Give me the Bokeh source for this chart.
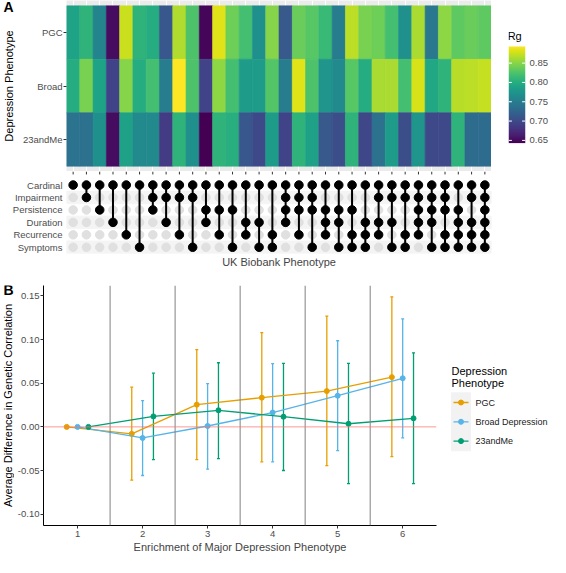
import numpy as np
from bokeh.plotting import figure
from bokeh.models import (ColumnDataSource, LinearColorMapper, FixedTicker, Range1d,
                          Whisker, Span, TeeHead, NumeralTickFormatter)
from bokeh.layouts import column, row
from bokeh.palettes import Viridis256
from bokeh.transform import transform
from bokeh.embed import file_html
from bokeh.resources import INLINE
from bokeh.core.properties import value

FONT = "Liberation Sans"
TICK_GRAY = "#4D4D4D"

# ---------------- data ----------------
depression_rows = ["PGC", "Broad", "23andMe"]
ukb_phenotypes = ["Cardinal", "Impairment", "Persistence", "Duration", "Recurrence", "Symptoms"]
ukb_codes = ["C", "I", "P", "D", "R", "S"]
ukb_combinations = [
    "C", "CI", "CP", "CD", "CR", "CS",
    "CIP", "CID", "CIR", "CIS", "CPD", "CPR", "CPS", "CDR", "CDS", "CRS",
    "CIPD", "CIPR", "CIPS", "CPDR", "CPDS", "CPRS", "CDRS", "CIDR", "CIDS", "CIRS",
    "CIPDR", "CIPDS", "CIPRS", "CPDRS", "CIDRS", "CIPDRS"]

rg_pgc = [0.788, 0.806, 0.756, 0.651, 0.873, 0.806, 0.798, 0.711, 0.863, 0.823,
          0.646, 0.881, 0.838, 0.818, 0.768, 0.848, 0.713, 0.836, 0.828, 0.811,
          0.748, 0.868, 0.843, 0.838, 0.818, 0.768, 0.861, 0.743, 0.851, 0.831,
          0.836, 0.831]
rg_broad = [0.798, 0.843, 0.788, 0.693, 0.848, 0.798, 0.818, 0.748, 0.893, 0.823,
            0.693, 0.851, 0.818, 0.781, 0.781, 0.826, 0.748, 0.881, 0.823, 0.773,
            0.763, 0.828, 0.798, 0.861, 0.861, 0.818, 0.878, 0.793, 0.806, 0.866,
            0.868, 0.871]
rg_23andme = [0.738, 0.736, 0.768, 0.651, 0.786, 0.763, 0.763, 0.686, 0.806, 0.768,
              0.643, 0.806, 0.801, 0.711, 0.698, 0.781, 0.693, 0.806, 0.786, 0.713,
              0.703, 0.806, 0.696, 0.736, 0.781, 0.703, 0.773, 0.698, 0.698, 0.806,
              0.731, 0.731]
rg_ticks = [0.65, 0.70, 0.75, 0.80, 0.85]

enrichment = [1, 2, 3, 4, 5, 6]
series_names = ["PGC", "Broad Depression", "23andMe"]
series_colors = ["#E69F00", "#56B4E9", "#009E73"]
pgc_mean = [0.0, -0.008, 0.0255, 0.0335, 0.041, 0.057]
pgc_lo = [0.0, -0.061, -0.0375, -0.040, -0.0445, -0.034]
pgc_hi = [0.0, 0.0455, 0.0885, 0.108, 0.127, 0.149]
broad_mean = [0.0, -0.0127, 0.001, 0.0164, 0.0357, 0.0557]
broad_lo = [0.0, -0.0557, -0.0485, -0.040, -0.0273, -0.0127]
broad_hi = [0.0, 0.030, 0.0495, 0.0725, 0.0987, 0.1238]
me_mean = [0.0, 0.012, 0.019, 0.0117, 0.0036, 0.0098]
me_lo = [0.0, -0.0375, -0.0364, -0.050, -0.065, -0.065]
me_hi = [0.0, 0.0615, 0.0735, 0.0728, 0.0728, 0.0849]
y_ticks_b = [-0.10, -0.05, 0.0, 0.05, 0.10, 0.15]


def clean(p):
    p.outline_line_color = None
    p.border_fill_color = "white"
    p.xaxis.minor_tick_line_color = None
    p.yaxis.minor_tick_line_color = None
    p.toolbar.logo = None


def strip_fig(w, h, top, bottom):
    """Narrow figure used for the panel tag and the rotated axis title."""
    p = figure(width=w, height=h, x_range=Range1d(0, w), y_range=Range1d(h - bottom, top),
               output_backend="svg", toolbar_location=None,
               min_border_left=0, min_border_right=0, min_border_top=top, min_border_bottom=bottom)
    clean(p)
    p.axis.visible = False
    p.grid.grid_line_color = None
    return p


# ---------------- panel A: heatmap ----------------
all_rg = rg_pgc + rg_broad + rg_23andme
mapper = LinearColorMapper(palette=Viridis256, low=min(all_rg), high=max(all_rg))
ncol = len(ukb_combinations)

hx, hy, hv = [], [], []
for r, vals in zip([3, 2, 1], [rg_pgc, rg_broad, rg_23andme]):
    for j, v in enumerate(vals):
        hx.append(j + 1)
        hy.append(r)
        hv.append(v)
hsrc = ColumnDataSource(dict(x=hx, y=hy, rg=hv))

LB = 66          # left edge of the heatmap / upset frames
TAG_A = 16       # width of the tag strip left of panel A
HA = 171
xr = Range1d(0.5, ncol + 0.5)
yA = Range1d(0.4, 3.6)

pTA = strip_fig(TAG_A, HA, 0, 0)
pTA.text(x=[3], y=[6.7], text=["A"], text_font=value(FONT), text_font_size="14px",
         text_font_style="bold", text_baseline="middle", text_color="black")
pTA.text(x=[8], y=[HA / 2], text=["Depression Phenotype"], angle=np.pi / 2,
         text_font=value(FONT), text_font_size="11px", text_align="center",
         text_baseline="middle", text_color="black")

pA = figure(width=491 - TAG_A, height=HA, x_range=xr, y_range=yA,
            output_backend="svg", toolbar_location=None,
            min_border_left=LB - TAG_A, min_border_right=0, min_border_top=0, min_border_bottom=0)
clean(pA)
pA.background_fill_color = "#EBEBEB"
pA.rect(x="x", y="y", width=1, height=1, source=hsrc,
        fill_color=transform("rg", mapper), line_color=transform("rg", mapper), line_width=0.6)
pA.xgrid.ticker = FixedTicker(ticks=list(range(1, ncol + 1)))
pA.xgrid.grid_line_color = "white"
pA.xgrid.grid_line_width = 1
pA.ygrid.grid_line_color = None
pA.xaxis.visible = False
pA.yaxis.ticker = FixedTicker(ticks=[1, 2, 3])
pA.yaxis.major_label_overrides = {1: depression_rows[2], 2: depression_rows[1], 3: depression_rows[0]}
pA.yaxis.axis_line_color = None
pA.yaxis.major_tick_out = 3
pA.yaxis.major_tick_in = 0
pA.yaxis.major_tick_line_color = "#333333"
pA.yaxis.major_label_text_font = FONT
pA.yaxis.major_label_text_font_size = "9.5px"
pA.yaxis.major_label_text_color = TICK_GRAY
pA.yaxis.major_label_standoff = 1

# colour bar as its own small figure (frame = full height, bar placed by range)
lo, hi = mapper.low, mapper.high
bar_top, bar_bot = 46.0, 142.6
u = (hi - lo) / (bar_bot - bar_top)
pCB = figure(width=59, height=HA, x_range=Range1d(0, 1),
             y_range=Range1d(lo - (HA - bar_bot) * u, hi + bar_top * u),
             y_axis_location="right", output_backend="svg", toolbar_location=None,
             min_border_left=17, min_border_right=25, min_border_top=0, min_border_bottom=0)
clean(pCB)
grad = np.linspace(lo, hi, 256).reshape(256, 1)
pCB.image(image=[grad], x=0, y=lo, dw=1, dh=hi - lo, color_mapper=mapper)
pCB.segment(x0=0, x1=0.2, y0=rg_ticks, y1=rg_ticks, line_color="white", line_width=1)
pCB.segment(x0=0.8, x1=1, y0=rg_ticks, y1=rg_ticks, line_color="white", line_width=1)
pCB.text(x=[-0.05], y=[hi + 10.3 * u], text=["Rg"], text_font=value(FONT),
         text_font_size="11px", text_baseline="middle", text_color="black")
pCB.xaxis.visible = False
pCB.grid.grid_line_color = None
pCB.yaxis.ticker = FixedTicker(ticks=rg_ticks)
pCB.yaxis.formatter = NumeralTickFormatter(format="0.00")
pCB.yaxis.axis_line_color = None
pCB.yaxis.major_tick_out = 0
pCB.yaxis.major_tick_in = 0
pCB.yaxis.major_label_standoff = 4
pCB.yaxis.major_label_text_font = FONT
pCB.yaxis.major_label_text_font_size = "9.5px"
pCB.yaxis.major_label_text_color = TICK_GRAY

# ---------------- UpSet matrix ----------------
nrow = len(ukb_phenotypes)
row_y = {code: nrow - i for i, code in enumerate(ukb_codes)}
ex, ey, fx, fy, lx, ly0, ly1 = [], [], [], [], [], [], []
for j, combo in enumerate(ukb_combinations):
    for code in ukb_codes:
        ex.append(j + 1)
        ey.append(row_y[code])
    present = [row_y[c] for c in combo]
    for yv in present:
        fx.append(j + 1)
        fy.append(yv)
    if len(present) > 1:
        lx.append(j + 1)
        ly0.append(max(present))
        ly1.append(min(present))

HU, BU = 99, 16
top_u = 7.087
pU = figure(width=550, height=HU, x_range=xr, y_range=Range1d(0.5, top_u),
            output_backend="svg", toolbar_location=None,
            min_border_left=LB, min_border_right=59, min_border_top=0, min_border_bottom=BU)
clean(pU)
pU.grid.grid_line_color = None
pyU = (HU - BU) / (top_u - 0.5)
stripe_rows = [nrow - i for i in range(nrow) if i % 2 == 1]
pU.hbar(y=stripe_rows, left=0.5, right=ncol + 0.5, height=1, color="#F4F4F4")
# x ticks of the heatmap, hanging just below it
col_x = list(range(1, ncol + 1))
pU.segment(x0=col_x, x1=col_x, y0=[top_u] * ncol, y1=[top_u - 3 / pyU] * ncol,
           line_color="#333333", line_width=1)
pU.scatter(ex, ey, size=8.5, color="#E0E0E0")
pU.segment(x0=lx, x1=lx, y0=ly0, y1=ly1, line_color="black", line_width=2)
pU.scatter(fx, fy, size=8.5, color="black")
pU.yaxis.ticker = FixedTicker(ticks=list(range(1, nrow + 1)))
pU.yaxis.major_label_overrides = {nrow - i: name for i, name in enumerate(ukb_phenotypes)}
pU.yaxis.axis_line_color = None
pU.yaxis.major_tick_out = 0
pU.yaxis.major_tick_in = 0
pU.yaxis.major_label_standoff = 4
pU.yaxis.major_label_text_font = FONT
pU.yaxis.major_label_text_font_size = "9.5px"
pU.yaxis.major_label_text_color = TICK_GRAY
pU.xaxis.ticker = FixedTicker(ticks=[])
pU.xaxis.axis_line_color = None
pU.xaxis.major_tick_out = 0
pU.xaxis.major_tick_in = 0
pU.xaxis.axis_label = "UK Biobank Phenotype"
pU.xaxis.axis_label_text_font = FONT
pU.xaxis.axis_label_text_font_size = "11px"
pU.xaxis.axis_label_text_font_style = "normal"
pU.xaxis.axis_label_standoff = 2

# ---------------- panel B ----------------
HB, TB, BB = 287, 15, 32
TAG_B = 14
LBB, RBB, WB = 40 - TAG_B, 13, 449 - TAG_B
xB = Range1d(0.476, 6.52)
yB = Range1d(-0.113, 0.162)

pTB = strip_fig(TAG_B, HB, TB, BB)
pTB.text(x=[3], y=[19.7], text=["B"], text_font=value(FONT), text_font_size="14px",
         text_font_style="bold", text_baseline="middle", text_color="black")
pTB.text(x=[7.5], y=[(TB + HB - BB) / 2], text=["Average Difference in Genetic Correlation"],
         angle=np.pi / 2, text_font=value(FONT), text_font_size="11px", text_align="center",
         text_baseline="middle", text_color="black")

pB = figure(width=WB, height=HB, x_range=xB, y_range=yB,
            output_backend="svg", toolbar_location=None,
            min_border_left=LBB, min_border_right=RBB, min_border_top=TB, min_border_bottom=BB)
clean(pB)
pB.grid.grid_line_color = None
for k in range(len(enrichment) - 1):
    pB.add_layout(Span(location=(enrichment[k] + enrichment[k + 1]) / 2, dimension="height",
                       line_color="#808080", line_width=1))
pB.add_layout(Span(location=0, dimension="width", line_color="#F8766D", line_alpha=0.75, line_width=1))

offsets = [-1 / 6, 0, 1 / 6]
series = [(pgc_mean, pgc_lo, pgc_hi), (broad_mean, broad_lo, broad_hi), (me_mean, me_lo, me_hi)]
for (mean, lo_, hi_), off, col in zip(series, offsets, series_colors):
    src = ColumnDataSource(dict(x=[e + off for e in enrichment], m=mean, lo=lo_, hi=hi_))
    pB.line("x", "m", source=src, line_color=col, line_width=1.3)
    pB.add_layout(Whisker(source=src, base="x", upper="hi", lower="lo", line_color=col,
                          line_width=1.3,
                          upper_head=TeeHead(size=3, line_color=col, line_width=1.3),
                          lower_head=TeeHead(size=3, line_color=col, line_width=1.3)))
    pB.scatter("x", "m", source=src, size=5, color=col)

for ax in (pB.xaxis, pB.yaxis):
    ax.axis_line_color = "black"
    ax.axis_line_width = 1
    ax.major_tick_line_color = "#333333"
    ax.major_tick_out = 3
    ax.major_tick_in = 0
    ax.major_label_text_font = FONT
    ax.major_label_text_font_size = "9.5px"
    ax.major_label_text_color = TICK_GRAY
    ax.axis_label_text_font = FONT
    ax.axis_label_text_font_size = "11px"
    ax.axis_label_text_font_style = "normal"
    ax.axis_label_standoff = 1
pB.xaxis.major_label_standoff = 2
pB.yaxis.major_label_standoff = 1
pB.xaxis.ticker = FixedTicker(ticks=enrichment)
pB.yaxis.ticker = FixedTicker(ticks=y_ticks_b)
pB.yaxis.formatter = NumeralTickFormatter(format="0.00")
pB.xaxis.axis_label = "Enrichment of Major Depression Phenotype"

# legend for panel B (frame aligned with pB's frame; y data = pixels from pB's top)
pL = strip_fig(101, HB, TB, BB)
key_y0, key_dy = 132, 19.3
key_ys = [key_y0 + i * key_dy for i in range(len(series_names))]
pL.quad(left=2, right=21, top=key_ys[0] - key_dy / 2, bottom=key_ys[-1] + key_dy / 2,
        color="#F2F2F2")
pL.segment(x0=4, x1=19, y0=key_ys, y1=key_ys, line_color=series_colors, line_width=1.3)
pL.scatter(x=[11.5] * len(key_ys), y=key_ys, size=5, color=series_colors)
pL.text(x=[26] * len(key_ys), y=key_ys, text=series_names, text_font=value(FONT),
        text_font_size="9px", text_baseline="middle", text_color="#1A1A1A")
pL.text(x=[2, 2], y=[100, 112.5], text=["Depression", "Phenotype"], text_font=value(FONT),
        text_font_size="11px", text_baseline="middle", text_color="black")

layout = column(row(pTA, pA, pCB), pU, row(pTB, pB, pL))
open("out.html", "w").write(file_html(layout, INLINE))
